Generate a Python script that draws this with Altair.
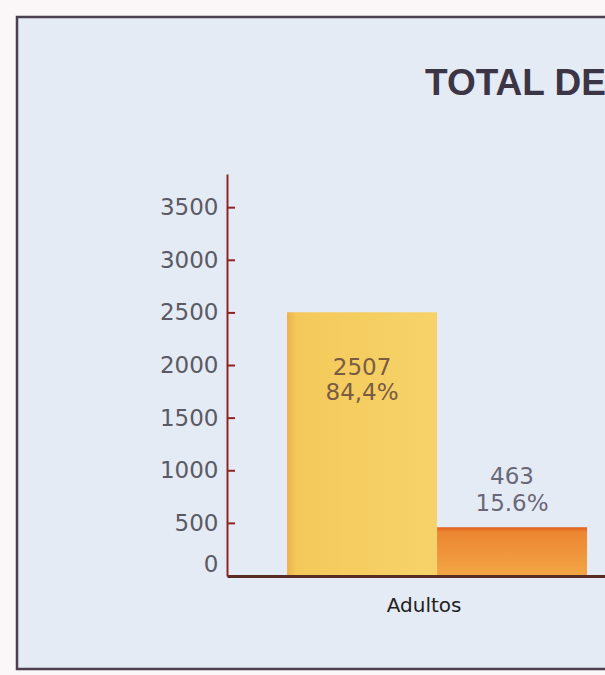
import altair as alt
import pandas as pd

# ---- data ----
group = ["Adultos", "Adultos"]
series = ["Serie 1", "Serie 2"]
values = [2507, 463]
pct_labels = ["84,4%", "15.6%"]
y_ticks = [0, 500, 1000, 1500, 2000, 2500, 3000, 3500]
title_text = "TOTAL DE"

df = pd.DataFrame({"grupo": group, "serie": series, "valor": values, "pct": pct_labels})
ticks_df = pd.DataFrame({"v": y_ticks})
one_df = pd.DataFrame({"k": [0], "titulo": [title_text]})

FONT = "Liberation Sans"
NUMFONT = "DejaVu Sans"

x_scale = alt.Scale(paddingInner=0, paddingOuter=0.13, align=0.77)
x_axis = alt.Axis(title=None, ticks=False, labelAngle=0, labelPadding=19, labelOffset=-13,
                  labelFontSize=20, labelColor="#222222", labelFont=NUMFONT,
                  domainColor="#5a2a24", domainWidth=3, zindex=2)
y_scale = alt.Scale(domain=[0, 3820], nice=False)
y_axis = alt.Axis(title=None, values=y_ticks, format="d", ticks=False, grid=False,
                  labelFlush=True, labelPadding=9, labelFontSize=23,
                  labelColor="#5a5a64", labelFont=NUMFONT,
                  domainColor="#8e2424", domainWidth=2, zindex=2)
xoff = alt.XOffset("serie:N", scale=alt.Scale(paddingInner=0, paddingOuter=0))

base = alt.Chart(df)

frame = alt.Chart(one_df).mark_rect(
    fill="#e5ebf5", stroke="#4a4050", strokeWidth=2.5
).encode(x=alt.value(-210), x2=alt.value(420), y=alt.value(-157), y2=alt.value(495))

title = alt.Chart(one_df).mark_text(
    align="left", baseline="alphabetic", fontSize=37, fontWeight="bold",
    font=FONT, color="#3b3545"
).encode(text="titulo:N", x=alt.value(198), y=alt.value(-79))

grad1 = alt.LinearGradient(gradient="linear", x1=0, x2=1, y1=0, y2=0,
                           stops=[alt.GradientStop(color="#eeb04a", offset=0),
                                  alt.GradientStop(color="#f4c95a", offset=0.06),
                                  alt.GradientStop(color="#f6d36a", offset=1)])
grad2 = alt.LinearGradient(gradient="linear", x1=0, x2=0, y1=0, y2=1,
                           stops=[alt.GradientStop(color="#de601c", offset=0),
                                  alt.GradientStop(color="#ec8632", offset=0.1),
                                  alt.GradientStop(color="#f3a646", offset=1)])

enc = dict(x=alt.X("grupo:N", scale=x_scale, axis=x_axis),
           y=alt.Y("valor:Q", scale=y_scale, axis=y_axis),
           xOffset=xoff)

s1 = base.transform_filter(alt.datum.serie == series[0])
s2 = base.transform_filter(alt.datum.serie == series[1])

bar1 = s1.mark_bar(fill=grad1).encode(**enc)
bar2 = s2.mark_bar(fill=grad2).encode(**enc)

tstyle = dict(baseline="middle", fontSize=23, font=NUMFONT)
t1a = s1.mark_text(dy=56, color="#7a5c44", **tstyle).encode(text="valor:N", **enc)
t1b = s1.mark_text(dy=81, color="#7a5c44", **tstyle).encode(text="pct:N", **enc)
t2a = s2.mark_text(dy=-50, color="#6a6878", **tstyle).encode(text="valor:N", **enc)
t2b = s2.mark_text(dy=-23, color="#6a6878", **tstyle).encode(text="pct:N", **enc)

ticks = alt.Chart(ticks_df).mark_rule(color="#8e2424", strokeWidth=2).encode(
    y=alt.Y("v:Q", scale=y_scale, axis=y_axis),
    x=alt.value(1), x2=alt.value(8)
)

chart = alt.layer(frame, title, bar1, bar2, t1a, t1b, t2a, t2b, ticks).properties(
    width=378, height=402,
    autosize="none",
    padding={"left": 227, "top": 174, "right": 0, "bottom": 99},
).configure(background="#fbf6f8").configure_view(stroke=None)

chart.save("out.html", embed_options={"renderer": "svg", "actions": False})
